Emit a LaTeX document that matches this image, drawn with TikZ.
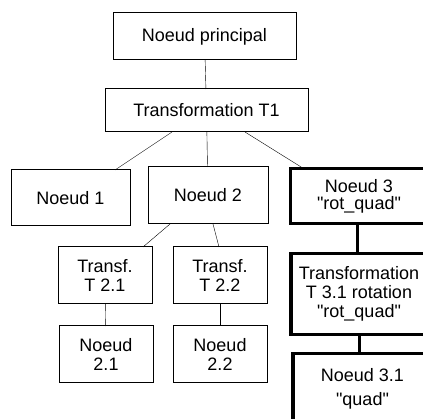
\documentclass[tikz,border=0pt]{standalone}
\usepackage{fontspec}
\setmainfont{Liberation Sans}[Ligatures=TeXOff]
\usetikzlibrary{positioning}

\begin{document}
\begin{tikzpicture}[x=1pt, y=-1pt]
			\tikzset {box/.style={draw, line width=1pt, inner sep=0pt, outer sep=0pt, align=center, minimum width=94pt, minimum height=57pt, font=\fontsize{18}{19}\selectfont}, boldbox/.style={box, line width=3.2pt}, node distance=22pt}
			
			\useasboundingbox (0,0) rectangle (423,419);
			\clip (0,0) rectangle (423,419);
			
			\node[box, minimum width=183pt, minimum height=47pt] (np) at (204.5,36.5) {Noeud principal};
			\node[box, minimum width=203pt, minimum height=43pt] (t1) at (206.5,110.5) {Transformation T1};
			\node[box, minimum width=119pt, minimum height=56pt] (n1) at (70.5,198) {Noeud 1};
			\node[box, minimum width=120pt] (n2) at (208,195.5) {Noeud 2};
			\node[boldbox, minimum width=137pt, minimum height=55pt] (n3) at (359,196) {Noeud 3\\[-2pt]"rot\_quad"};
			\node[box] (t21) at (105,275.5) {Transf.\\T 2.1};
			\node[box] (t22) at (220,275.5) {Transf.\\T 2.2};
			\node[box, below=of t21, xshift=1pt] (n21) {Noeud\\2.1};
			\node[box, below=of t22] (n22) {Noeud\\2.2};
			\node[boldbox, below=30pt of n3, minimum width=136pt, minimum height=81pt] (t31) {Transformation\\T 3.1 rotation\\"rot\_quad"};
			\node[boldbox, below=19pt of t31, xshift=3.5pt, minimum width=139pt, minimum height=70pt] (n31) {Noeud 3.1\\[5pt]"quad"};
			
			\draw
				(np) edge (t1)
				([xshift=-34.5pt]t1.south) edge ([xshift=44.5pt]n1.north)
				(t1) edge (n2)
				([xshift=38.5pt]t1.south) edge ([xshift=13pt]n3.north west)
				([xshift=-38pt]n2.south) edge ([xshift=38pt]t21.north)
				([xshift=5pt]n2.south) edge ([xshift=-1pt]t22.north)
				(t21) edge (n21)
				(t22) edge (n22);
			\draw[line width=3pt]
				([xshift=-2pt]n3.south) edge ([xshift=-2pt]n3.south |- t31.north)
				(t31.south) edge (t31.south |- n31.north);
		\end{tikzpicture}
\end{document}
